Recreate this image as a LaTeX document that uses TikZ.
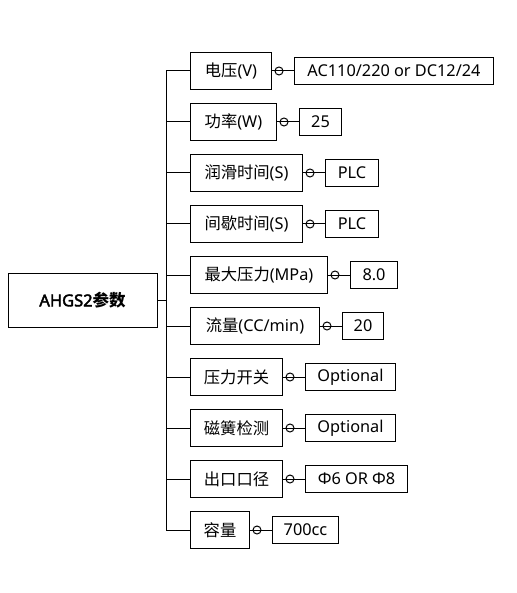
\documentclass[tikz,border=0pt]{standalone}
\usepackage{fontspec}
\setmainfont{Noto Sans}
\newfontfamily\cjk{Noto Sans CJK SC}
\newfontfamily\boldlat{Noto Sans}[FakeBold=2.5]
\usetikzlibrary{positioning,calc}
\begin{document}
\begin{tikzpicture}[x=1pt,y=-1pt,
  line width=1pt,
  txt/.style={font=\fontsize{16.3}{19}\selectfont},
  pbox/.style={draw, txt, minimum height=37pt, inner sep=0pt, anchor=west},
  vbox/.style={draw, txt, minimum height=27pt, inner sep=0pt},
  mainbox/.style={draw, font=\fontsize{16.5}{19}\selectfont, minimum width=149pt, minimum height=54pt, inner sep=0pt},
  knob/.style={draw, circle, minimum size=8pt, inner sep=0pt}
]
\useasboundingbox (0,0) rectangle (516,593);
\coordinate (tr) at (166,0);

\node[mainbox] (m) at (82.5,300) {{\boldlat AHGS2}{\cjk\bfseries 参数}};

\node[pbox, minimum width=81pt]  (p1)  at (190,71)  {{\cjk 电压}(V)};
\node[pbox, minimum width=86pt]  (p2)  at (190,122) {{\cjk 功率}(W)};
\node[pbox, minimum width=112pt] (p3)  at (190,173) {{\cjk 润滑时间}(S)};
\node[pbox, minimum width=112pt] (p4)  at (190,224) {{\cjk 间歇时间}(S)};
\node[pbox, minimum width=137pt] (p5)  at (190,275) {{\cjk 最大压力}(MPa)};
\node[pbox, minimum width=129pt] (p6)  at (190,326) {{\cjk 流量}(CC/min)};
\node[pbox, minimum width=92pt]  (p7)  at (190,377) {{\cjk 压力开关}};
\node[pbox, minimum width=92pt]  (p8)  at (190,428) {{\cjk 磁簧检测}};
\node[pbox, minimum width=92pt]  (p9)  at (190,479) {{\cjk 出口口径}};
\node[pbox, minimum width=59pt]  (p10) at (190,530) {{\cjk 容量}};

\node[vbox, minimum width=199pt, right=22pt of p1]  (v1)  {AC110/220 or DC12/24};
\node[vbox, minimum width=42pt,  right=22pt of p2]  (v2)  {25};
\node[vbox, minimum width=53pt,  right=22pt of p3]  (v3)  {PLC};
\node[vbox, minimum width=53pt,  right=22pt of p4]  (v4)  {PLC};
\node[vbox, minimum width=47pt,  right=22pt of p5]  (v5)  {8.0};
\node[vbox, minimum width=41pt,  right=22pt of p6]  (v6)  {20};
\node[vbox, minimum width=90pt,  right=22pt of p7]  (v7)  {Optional};
\node[vbox, minimum width=90pt,  right=22pt of p8]  (v8)  {Optional};
\node[vbox, minimum width=102pt, right=22pt of p9]  (v9)  {Φ6 OR Φ8};
\node[vbox, minimum width=66pt,  right=22pt of p10] (v10) {700cc};

\draw (tr |- p1.west) -- (tr |- p10.west);
\draw (m.east) -- (tr |- m.east);
\foreach \k in {1,...,10}{
  \draw (tr |- p\k.west) -- (p\k.west);
  \draw (p\k.east) -- (v\k.west);
  \node[knob] (k\k) at ($(p\k.east)+(7,0)$) {};
}
\end{tikzpicture}
\end{document}
